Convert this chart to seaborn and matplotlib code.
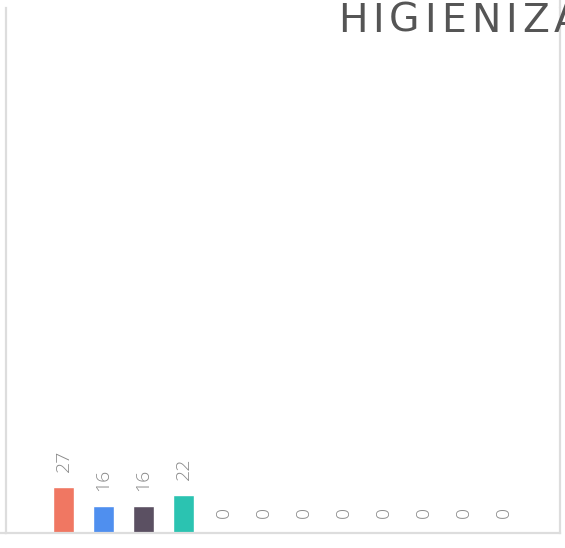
import matplotlib
matplotlib.use("Agg")
import matplotlib.pyplot as plt
from matplotlib.lines import Line2D
from matplotlib.font_manager import FontProperties, findfont, get_font
import seaborn as sns
import pandas as pd

# Chart data
categories = ["C1", "C2", "C3", "C4", "C5", "C6", "C7", "C8", "C9", "C10", "C11", "C12"]
values = [27, 16, 16, 22, 0, 0, 0, 0, 0, 0, 0, 0]
bar_colors = ["#F07762", "#4F8FEF", "#5B5062", "#2BC3B1",
              "#F07762", "#4F8FEF", "#5B5062", "#2BC3B1",
              "#F07762", "#4F8FEF", "#5B5062", "#2BC3B1"]
title_text = "HIGIENIZAÇÃO"

sns.set_theme(style="white")
plt.rcParams["font.family"] = ["Open Sans", "DejaVu Sans"]

W, H = 565, 548
DPI = 100
fig = plt.figure(figsize=(W / DPI, H / DPI), dpi=DPI)
ax = fig.add_axes([6 / W, 15 / H, (560 - 6) / W, (533 - 8) / H])

df = pd.DataFrame({"cat": categories, "val": values})
sns.barplot(data=df, x="cat", y="val", hue="cat", palette=bar_colors,
            legend=False, width=0.525, saturation=1, ax=ax)

ax.set_xlim(-1.4375, 12.4125)
ax.set_ylim(0, 307)
ax.set_xticks([])
ax.set_yticks([])
ax.set_xlabel("")
ax.set_ylabel("")

grid_col = "#DDDDDD"
for side in ["left", "right", "bottom"]:
    ax.spines[side].set_color(grid_col)
    ax.spines[side].set_linewidth(1.6)
ax.spines["top"].set_visible(False)

# extend baseline to the left edge and the right rule to the top edge
fig.add_artist(Line2D([0, 6 / W], [15 / H, 15 / H], color=grid_col, lw=1.6))
fig.add_artist(Line2D([560 / W, 560 / W], [1 - 8 / H, 1.0], color=grid_col, lw=1.6))

# rotated value labels above each bar
for i, v in enumerate(values):
    ax.annotate(str(v), xy=(i, v), xytext=(0, 15), textcoords="offset pixels",
                ha="center", va="bottom", rotation=90, fontsize=14,
                fontweight="light", color="#8A8A8A")

# letter-spaced title; the heading runs past the right edge of the canvas
title_size = 28.3
tracking_px = 5.0
title_prop = FontProperties(family="DejaVu Sans", weight="normal", size=title_size)
ft = get_font(findfont(title_prop))
ft.set_size(title_size, DPI)
x_px = 338.0
for ch in title_text:
    fig.text(x_px / W, 1 - 32 / H, ch, ha="left", va="baseline",
             fontproperties=title_prop, color="#555555")
    glyph = ft.load_char(ord(ch))
    x_px += glyph.linearHoriAdvance / 65536 + tracking_px

fig.savefig("out.png", dpi=DPI)
